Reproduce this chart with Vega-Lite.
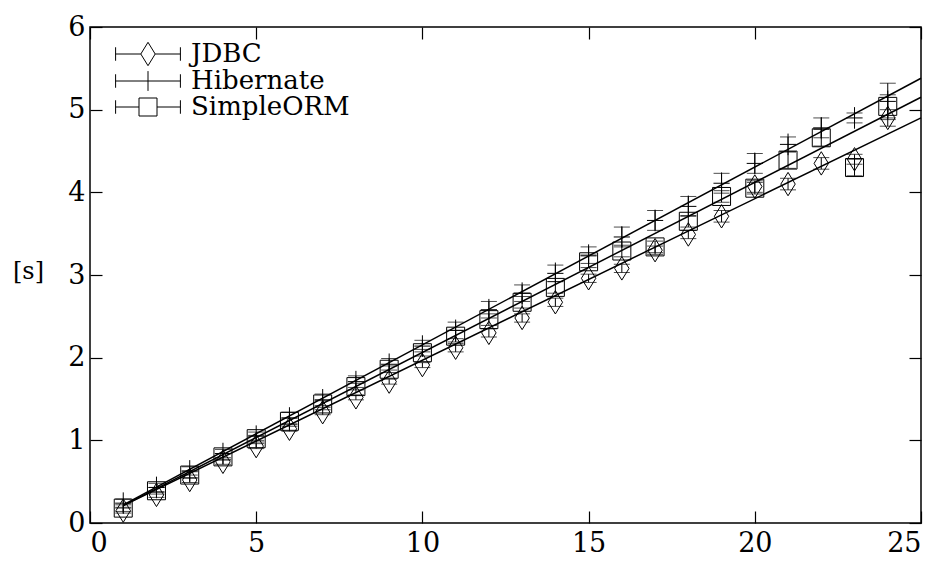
{
 "$schema": "https://vega.github.io/schema/vega-lite/v6.json",
 "width": 831, "height": 496,
 "autosize": {"type": "none"},
 "padding": {"left": 90, "top": 27, "right": 20, "bottom": 38},
 "background": "white",
 "config": {
  "view": {"stroke": "black", "strokeWidth": 1.5},
  "font": "DejaVu Serif",
  "axis": {"labelFont": "DejaVu Serif", "labelFontSize": 27, "labelColor": "black", "tickColor": "black", "domain": false, "grid": false, "tickSize": -12, "tickWidth": 1.2, "labelPadding": 19}
 },
 "datasets": {
  "pts": [
   {"n":1,"s":"JDBC","t":0.15,"lo":0.12,"hi":0.18},{"n":2,"s":"JDBC","t":0.34,"lo":0.31,"hi":0.37},{"n":3,"s":"JDBC","t":0.52,"lo":0.49,"hi":0.55},{"n":4,"s":"JDBC","t":0.74,"lo":0.71,"hi":0.77},{"n":5,"s":"JDBC","t":0.93,"lo":0.90,"hi":0.96},{"n":6,"s":"JDBC","t":1.14,"lo":1.11,"hi":1.17},{"n":7,"s":"JDBC","t":1.34,"lo":1.31,"hi":1.37},{"n":8,"s":"JDBC","t":1.52,"lo":1.49,"hi":1.55},{"n":9,"s":"JDBC","t":1.71,"lo":1.68,"hi":1.74},{"n":10,"s":"JDBC","t":1.91,"lo":1.88,"hi":1.94},{"n":11,"s":"JDBC","t":2.12,"lo":2.07,"hi":2.17},{"n":12,"s":"JDBC","t":2.30,"lo":2.25,"hi":2.35},{"n":13,"s":"JDBC","t":2.48,"lo":2.43,"hi":2.53},{"n":14,"s":"JDBC","t":2.67,"lo":2.62,"hi":2.72},{"n":15,"s":"JDBC","t":2.96,"lo":2.91,"hi":3.01},{"n":16,"s":"JDBC","t":3.08,"lo":3.03,"hi":3.13},{"n":17,"s":"JDBC","t":3.30,"lo":3.25,"hi":3.35},{"n":18,"s":"JDBC","t":3.49,"lo":3.44,"hi":3.54},{"n":19,"s":"JDBC","t":3.71,"lo":3.64,"hi":3.78},{"n":20,"s":"JDBC","t":4.07,"lo":4.00,"hi":4.14},{"n":21,"s":"JDBC","t":4.10,"lo":4.03,"hi":4.17},{"n":22,"s":"JDBC","t":4.35,"lo":4.28,"hi":4.42},{"n":23,"s":"JDBC","t":4.40,"lo":4.34,"hi":4.46},{"n":24,"s":"JDBC","t":4.90,"lo":4.80,"hi":5.00},
   {"n":1,"s":"Hibernate","t":0.24,"lo":0.19,"hi":0.29},{"n":2,"s":"Hibernate","t":0.43,"lo":0.38,"hi":0.48},{"n":3,"s":"Hibernate","t":0.63,"lo":0.58,"hi":0.68},{"n":4,"s":"Hibernate","t":0.84,"lo":0.79,"hi":0.89},{"n":5,"s":"Hibernate","t":1.05,"lo":1.00,"hi":1.10},{"n":6,"s":"Hibernate","t":1.27,"lo":1.20,"hi":1.34},{"n":7,"s":"Hibernate","t":1.49,"lo":1.42,"hi":1.56},{"n":8,"s":"Hibernate","t":1.71,"lo":1.64,"hi":1.78},{"n":9,"s":"Hibernate","t":1.92,"lo":1.85,"hi":1.99},{"n":10,"s":"Hibernate","t":2.14,"lo":2.07,"hi":2.21},{"n":11,"s":"Hibernate","t":2.33,"lo":2.23,"hi":2.43},{"n":12,"s":"Hibernate","t":2.58,"lo":2.48,"hi":2.68},{"n":13,"s":"Hibernate","t":2.78,"lo":2.68,"hi":2.88},{"n":14,"s":"Hibernate","t":3.02,"lo":2.92,"hi":3.12},{"n":15,"s":"Hibernate","t":3.24,"lo":3.14,"hi":3.34},{"n":16,"s":"Hibernate","t":3.46,"lo":3.34,"hi":3.58},{"n":17,"s":"Hibernate","t":3.66,"lo":3.54,"hi":3.78},{"n":18,"s":"Hibernate","t":3.83,"lo":3.71,"hi":3.95},{"n":19,"s":"Hibernate","t":4.11,"lo":3.99,"hi":4.23},{"n":20,"s":"Hibernate","t":4.35,"lo":4.23,"hi":4.47},{"n":21,"s":"Hibernate","t":4.58,"lo":4.49,"hi":4.67},{"n":22,"s":"Hibernate","t":4.78,"lo":4.66,"hi":4.90},{"n":23,"s":"Hibernate","t":4.90,"lo":4.84,"hi":4.96},{"n":24,"s":"Hibernate","t":5.10,"lo":4.88,"hi":5.32},
   {"n":1,"s":"SimpleORM","t":0.18,"lo":0.14,"hi":0.22},{"n":2,"s":"SimpleORM","t":0.39,"lo":0.35,"hi":0.43},{"n":3,"s":"SimpleORM","t":0.58,"lo":0.54,"hi":0.62},{"n":4,"s":"SimpleORM","t":0.80,"lo":0.76,"hi":0.84},{"n":5,"s":"SimpleORM","t":1.02,"lo":0.98,"hi":1.06},{"n":6,"s":"SimpleORM","t":1.23,"lo":1.19,"hi":1.27},{"n":7,"s":"SimpleORM","t":1.44,"lo":1.40,"hi":1.48},{"n":8,"s":"SimpleORM","t":1.65,"lo":1.61,"hi":1.69},{"n":9,"s":"SimpleORM","t":1.86,"lo":1.82,"hi":1.90},{"n":10,"s":"SimpleORM","t":2.06,"lo":2.02,"hi":2.10},{"n":11,"s":"SimpleORM","t":2.26,"lo":2.19,"hi":2.33},{"n":12,"s":"SimpleORM","t":2.46,"lo":2.39,"hi":2.53},{"n":13,"s":"SimpleORM","t":2.67,"lo":2.60,"hi":2.74},{"n":14,"s":"SimpleORM","t":2.85,"lo":2.78,"hi":2.92},{"n":15,"s":"SimpleORM","t":3.16,"lo":3.09,"hi":3.23},{"n":16,"s":"SimpleORM","t":3.29,"lo":3.22,"hi":3.36},{"n":17,"s":"SimpleORM","t":3.34,"lo":3.27,"hi":3.41},{"n":18,"s":"SimpleORM","t":3.65,"lo":3.58,"hi":3.72},{"n":19,"s":"SimpleORM","t":3.95,"lo":3.88,"hi":4.02},{"n":20,"s":"SimpleORM","t":4.05,"lo":3.98,"hi":4.12},{"n":21,"s":"SimpleORM","t":4.39,"lo":4.29,"hi":4.49},{"n":22,"s":"SimpleORM","t":4.66,"lo":4.56,"hi":4.76},{"n":23,"s":"SimpleORM","t":4.30,"lo":4.20,"hi":4.40},{"n":24,"s":"SimpleORM","t":5.04,"lo":4.90,"hi":5.18}
  ],
  "fits": [
   {"n":1,"s":"JDBC","t":0.21},{"n":25,"s":"JDBC","t":4.90},
   {"n":1,"s":"Hibernate","t":0.22},{"n":25,"s":"Hibernate","t":5.38},
   {"n":1,"s":"SimpleORM","t":0.21},{"n":25,"s":"SimpleORM","t":5.15}
  ]
 },
 "layer": [
  {
   "data": {"name": "fits"},
   "mark": {"type": "line", "color": "black", "strokeWidth": 1.5},
   "encoding": {
    "x": {"field": "n", "type": "quantitative", "scale": {"domain": [0, 25], "nice": false}, "axis": {"orient": "bottom", "title": null, "values": [0,5,10,15,20,25]}},
    "y": {"field": "t", "type": "quantitative", "scale": {"domain": [0, 6], "nice": false}, "axis": {"orient": "left", "labelPadding": 17, "values": [0,1,2,3,4,5,6], "title": "[s]", "titleAngle": 0, "titleFont": "DejaVu Serif", "titleFontSize": 24, "titleFontWeight": "normal", "titleAlign": "center", "titleBaseline": "middle", "titleX": -62, "titleY": 244}},
    "detail": {"field": "s"}
   }
  },
  {
   "data": {"name": "fits"},
   "mark": {"type": "point", "color": "black", "opacity": 0, "filled": false},
   "encoding": {
    "x": {"field": "n", "type": "quantitative", "axis": {"orient": "top", "labels": false, "title": null, "values": [0,5,10,15,20,25]}},
    "y": {"field": "t", "type": "quantitative", "axis": {"orient": "right", "labels": false, "title": null, "values": [0,1,2,3,4,5,6]}},
    "shape": {
     "field": "s", "type": "nominal",
     "scale": {"domain": ["JDBC", "Hibernate", "SimpleORM"], "range": ["M-3.6,-0.75V0.75M3.6,-0.75V0.75M-3.6,0H-0.8M0.8,0H3.6M0,-1.3L0.8,0L0,1.3L-0.8,0Z", "M-3.6,-0.75V0.75M3.6,-0.75V0.75M-3.6,0H3.6M0,-1.1V1.1", "M-3.6,-0.75V0.75M3.6,-0.75V0.75M-3.6,0H-1M1,0H3.6M-1,-1H1V1H-1Z"]},
     "legend": {
      "orient": "none", "legendX": 45, "legendY": 14, "title": null,
      "labelFont": "DejaVu Serif", "labelFontSize": 26, "labelColor": "black",
      "labelOffset": 30, "symbolSize": 324, "rowPadding": 0, "padding": 0,
      "symbolStrokeColor": "black", "symbolFillColor": "transparent", "symbolStrokeWidth": 1, "symbolOpacity": 1
     }
    }
   }
  },
  {
   "data": {"name": "pts"},
   "mark": {"type": "rule", "color": "black", "strokeWidth": 1},
   "encoding": {
    "x": {"field": "n", "type": "quantitative", "axis": null},
    "y": {"field": "lo", "type": "quantitative", "axis": null},
    "y2": {"field": "hi"}
   }
  },
  {
   "data": {"name": "pts"},
   "mark": {"type": "tick", "orient": "horizontal", "color": "black", "size": 16, "thickness": 1},
   "encoding": {
    "x": {"field": "n", "type": "quantitative", "axis": null},
    "y": {"field": "lo", "type": "quantitative", "axis": null}
   }
  },
  {
   "data": {"name": "pts"},
   "mark": {"type": "tick", "orient": "horizontal", "color": "black", "size": 16, "thickness": 1},
   "encoding": {
    "x": {"field": "n", "type": "quantitative", "axis": null},
    "y": {"field": "hi", "type": "quantitative", "axis": null}
   }
  },
  {
   "data": {"name": "pts"},
   "mark": {"type": "point", "filled": false, "color": "black", "size": 324, "strokeWidth": 1, "opacity": 1},
   "encoding": {
    "x": {"field": "n", "type": "quantitative", "axis": null},
    "y": {"field": "t", "type": "quantitative", "axis": null},
    "shape": {
     "field": "s", "type": "nominal",
     "scale": {"domain": ["JDBC", "Hibernate", "SimpleORM"], "range": ["M0,-1.3L0.8,0L0,1.3L-0.8,0Z", "M-0.9,0H0.9M0,-1.2V1.2", "M-1,-1H1V1H-1Z"]},
     "legend": null
    }
   }
  }
 ],
 "resolve": {"axis": {"x": "independent", "y": "independent"}, "scale": {"shape": "independent"}}
}
